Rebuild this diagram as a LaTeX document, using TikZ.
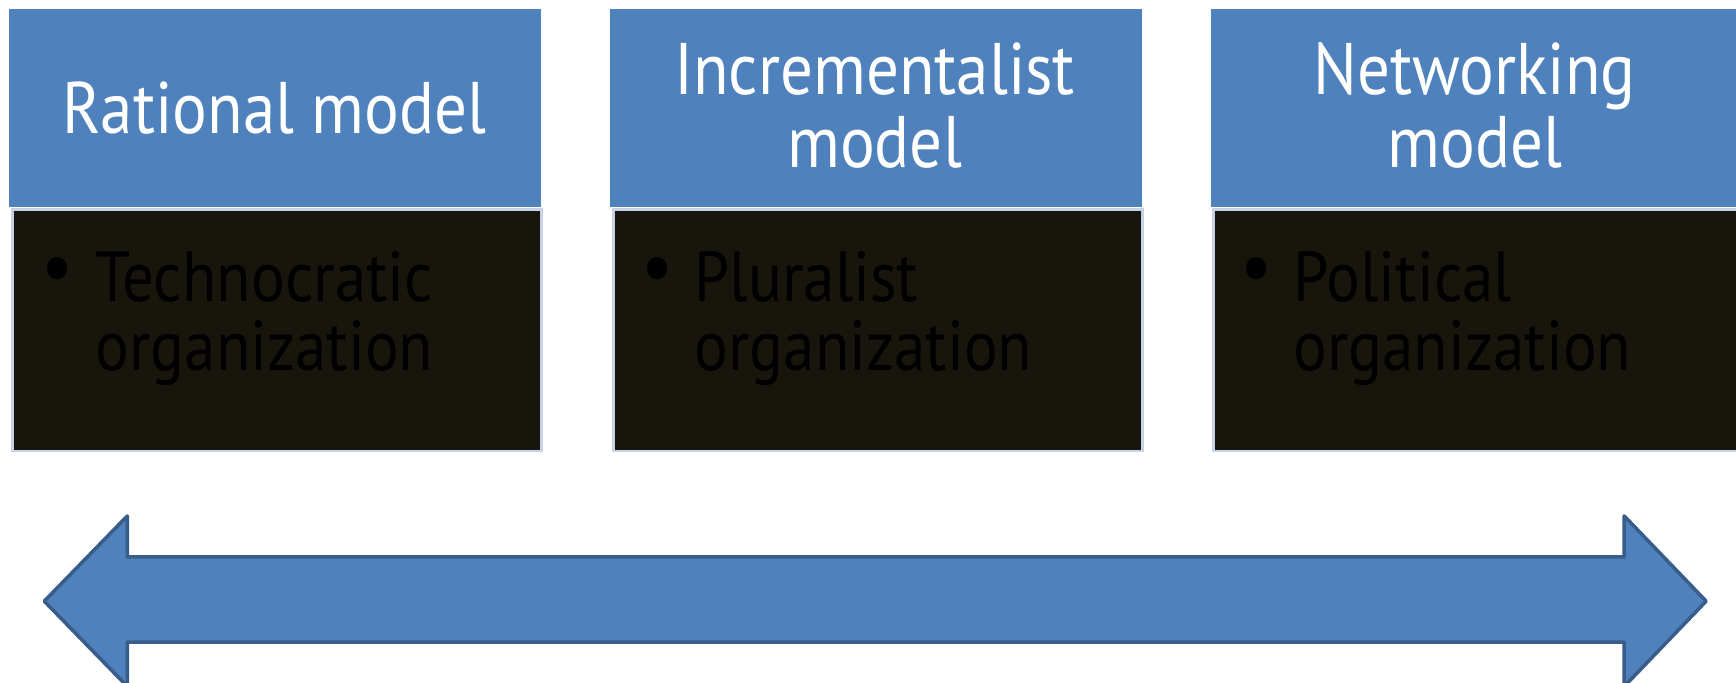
\documentclass[tikz,border=0pt]{standalone}
\usepackage{fontspec}
\setmainfont{PT Sans}[FakeStretch=0.89]
\definecolor{boxblue}{RGB}{79,129,189}
\definecolor{arrowedge}{RGB}{56,93,138}
\definecolor{darkfill}{RGB}{24,21,12}
\definecolor{frameblue}{RGB}{200,210,228}
\tikzset{
  titlebox/.style={fill=boxblue, draw=none, anchor=north west, minimum width=240pt, minimum height=89.5pt, inner sep=0pt},
  bodybox/.style={fill=darkfill, draw=frameblue, line width=1.2pt, anchor=north west, minimum width=239pt, minimum height=109pt, inner sep=0pt},
  titletext/.style={text=white, align=center, font=\fontsize{33}{33}\selectfont},
  bodytext/.style={text=black, anchor=base west, font=\fontsize{32}{36}\selectfont, inner sep=0pt},
  bulletmark/.style={text=black, anchor=center, font=\fontsize{36}{36}\selectfont, inner sep=0pt},
  bigarrow/.style={fill=boxblue, draw=arrowedge, line width=1.6pt, line join=round}
}
\begin{document}
\begin{tikzpicture}[x=0.5pt,y=-0.5pt]
\useasboundingbox (0,0) rectangle (1568,616);
\fill[white] (0,0) rectangle (1568,616);
% title boxes
\node[titlebox] (t1) at (8,8) {};
\node[titlebox] (t2) at (551,8) {};
\node[titlebox, minimum width=245pt] (t3) at (1093,8) {};
% body boxes
\node[bodybox] (b1) at (10,188) {};
\node[bodybox] (b2) at (553,188) {};
\node[bodybox, minimum width=244pt] (b3) at (1095,188) {};
% titles
\node[titletext] (l1) at (248,98) {Rational model};
\node[titletext] (l2) at (790,95) {Incrementalist\\model};
\node[titletext] (l3) at (1332,95) {Networking\\model};
% body text
\node[bulletmark] (d1) at (52,249) {\textbullet};
\node[bodytext] (x1a) at (86,272) {Technocratic};
\node[bodytext] (x1b) at (86,335) {organization};
\node[bulletmark] (d2) at (594,249) {\textbullet};
\node[bodytext] (x2a) at (627,272) {Pluralist};
\node[bodytext] (x2b) at (627,335) {organization};
\node[bulletmark] (d3) at (1135,249) {\textbullet};
\node[bodytext] (x3a) at (1168,272) {Political};
\node[bodytext] (x3b) at (1168,335) {organization};
% double arrow
\coordinate (lt) at (40,543);
\coordinate (rt) at (1541,543);
\draw[bigarrow] (lt) -- (115,466) -- (115,503) -- (1467,503) -- (1467,466) -- (rt)
  -- (1467,620) -- (1467,580) -- (115,580) -- (115,620) -- cycle;
\end{tikzpicture}
\end{document}
